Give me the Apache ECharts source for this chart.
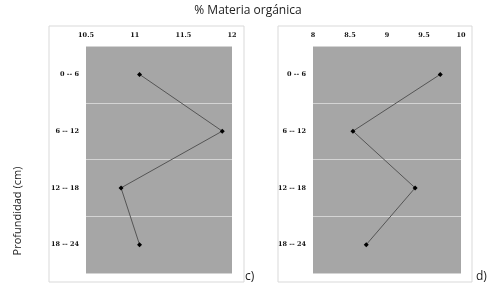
<!DOCTYPE html>
<html>
<head>
<meta charset="utf-8">
<script src="https://cdn.jsdelivr.net/npm/echarts@6/dist/echarts.min.js"></script>
<style>
  html, body { margin: 0; padding: 0; background: #fff; }
  #chart { width: 500px; height: 291px; }
</style>
</head>
<body>
<div id="chart"></div>
<script>
{
    // 深度分类
    const depths = ['0 -- 6', '6 -- 12', '12 -- 18', '18 -- 24'];
    // c) 与 d) 两组数值
    const valuesC = [11.05, 11.9, 10.86, 11.05];
    const valuesD = [9.72, 8.54, 9.38, 8.72];

    const chart = echarts.init(document.getElementById('chart'));

    const labelFont = { fontFamily: 'DejaVu Serif', fontWeight: 'bold', fontSize: 6.5, color: '#111' };

    function xAxisFor(gridIndex, min, max) {
        return {
            type: 'value', gridIndex: gridIndex, position: 'top',
            min: min, max: max, interval: 0.5,
            axisLine: { show: false }, axisTick: { show: false },
            splitLine: { show: false },
            axisLabel: Object.assign({ margin: 7 }, labelFont)
        };
    }
    function yAxisFor(gridIndex) {
        return {
            type: 'category', gridIndex: gridIndex, data: depths, inverse: true,
            axisLine: { show: false }, axisTick: { show: false },
            splitLine: { show: true, lineStyle: { color: '#d4d4d4', width: 1 } },
            axisLabel: Object.assign({ margin: 7 }, labelFont)
        };
    }
    function lineSeries(idx, data) {
        return {
            type: 'line', xAxisIndex: idx, yAxisIndex: idx,
            data: data.map((v, i) => [v, depths[i]]),
            symbol: 'diamond', symbolSize: 5,
            itemStyle: { color: '#000' },
            lineStyle: { color: '#555', width: 1 },
            animation: false
        };
    }

    const option = {
        animation: false,
        title: {
            text: '% Materia orgánica', left: 243, top: 0, textAlign: 'center',
            textStyle: { fontFamily: 'Open Sans', fontWeight: 'normal', fontSize: 12, color: '#222' }
        },
        graphic: [
            { type: 'rect', shape: { x: 49, y: 26, width: 195, height: 256 }, style: { fill: '#fff', stroke: '#d9d9d9', lineWidth: 1 }, z: -10 },
            { type: 'rect', shape: { x: 278, y: 26, width: 194, height: 256 }, style: { fill: '#fff', stroke: '#d9d9d9', lineWidth: 1 }, z: -10 },
            { type: 'text', x: 18, y: 211, rotation: Math.PI / 2, style: { text: 'Profundidad (cm)', fontFamily: 'Open Sans', fontSize: 11, fill: '#222', align: 'center', verticalAlign: 'middle' } },
            { type: 'text', x: 245, y: 271, style: { text: 'c)', fontFamily: 'Open Sans', fontSize: 12, fill: '#222' } },
            { type: 'text', x: 476, y: 271, style: { text: 'd)', fontFamily: 'Open Sans', fontSize: 12, fill: '#222' } }
        ],
        grid: [
            { left: 86, top: 46, width: 146, height: 227, show: true, backgroundColor: '#a6a6a6', borderWidth: 0 },
            { left: 313, top: 46, width: 148, height: 227, show: true, backgroundColor: '#a6a6a6', borderWidth: 0 }
        ],
        xAxis: [xAxisFor(0, 10.5, 12), xAxisFor(1, 8, 10)],
        yAxis: [yAxisFor(0), yAxisFor(1)],
        series: [lineSeries(0, valuesC), lineSeries(1, valuesD)]
    };

    chart.setOption(option);
    window.addEventListener('resize', function () {
        chart.resize();
    });
}
</script>
</body>
</html>
